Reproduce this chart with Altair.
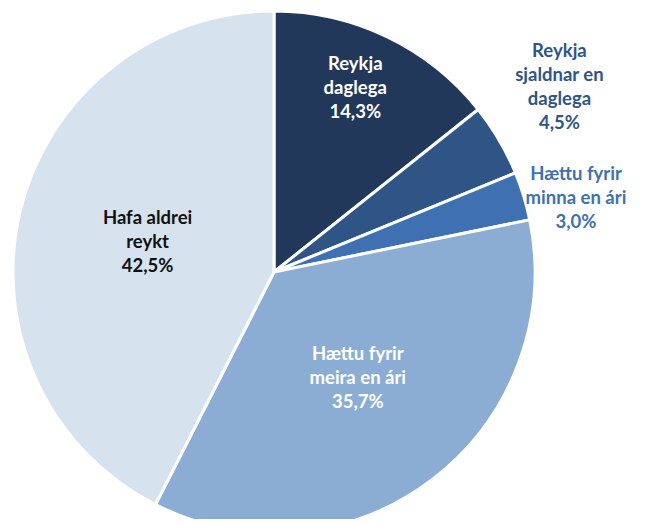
import altair as alt
import pandas as pd
import math

categories = ["Reykja daglega", "Reykja sjaldnar en daglega", "Hættu fyrir minna en ári",
              "Hættu fyrir meira en ári", "Hafa aldrei reykt"]
values = [14.3, 4.5, 3.0, 35.7, 42.5]
label_lines = [["Reykja", "daglega", "14,3%"],
               ["Reykja", "sjaldnar en", "daglega", "4,5%"],
               ["Hættu fyrir", "minna en ári", "3,0%"],
               ["Hættu fyrir", "meira en ári", "35,7%"],
               ["Hafa aldrei", "reykt", "42,5%"]]
slice_colors = ["#22385A", "#2F5586", "#3F70B1", "#8BADD4", "#D7E2EF"]
label_colors = ["#FFFFFF", "#2F5586", "#3F70B1", "#FFFFFF", "#111111"]
label_radius = [201, 340, 311, 135, 130]
label_angle_nudge = [-1.9, -2.5, 3.1, -1.1, 0.0]

df = pd.DataFrame({
    "cat": categories,
    "val": values,
    "ord": list(range(len(categories))),
    "label": label_lines,
    "nlines": [len(l) for l in label_lines],
    "lcol": label_colors,
    "lr": label_radius,
    "nudge": label_angle_nudge,
})

cx, cy, R = 266, 264, 261
LH = 24
theta_scale = alt.Scale(domain=[0, 100], range=[0, 2 * math.pi])

pie = alt.Chart(df).mark_arc(radius=R, stroke="white", strokeWidth=3).encode(
    theta=alt.Theta("val:Q", stack=True, scale=theta_scale),
    order=alt.Order("ord:Q", sort="ascending"),
    x=alt.value(cx), y=alt.value(cy),
    color=alt.Color("cat:N", scale=alt.Scale(domain=categories, range=slice_colors), legend=None),
)

text = alt.Chart(df).transform_window(
    cum="sum(val)", sort=[alt.SortField("ord", order="ascending")]
).transform_calculate(
    ang=f"((datum.cum - datum.val / 2) * 3.6 + datum.nudge) * PI / 180"
).transform_calculate(
    px=f"{cx} + datum.lr * sin(datum.ang)",
    py=f"{cy} - datum.lr * cos(datum.ang) - (datum.nlines - 1) * {LH} / 2",
).mark_text(font="Lato", fontSize=18.5, fontWeight="bold", lineHeight=LH,
            align="center", baseline="middle").encode(
    x=alt.X("px:Q", scale=None),
    y=alt.Y("py:Q", scale=None),
    text="label",
    color=alt.Color("lcol:N", scale=None),
)

chart = (pie + text).properties(
    width=646, height=511, padding=0, autosize=alt.AutoSizeParams(type="none")
).configure_view(stroke=None)

chart.save("out.html", embed_options={"renderer": "svg", "actions": False})
